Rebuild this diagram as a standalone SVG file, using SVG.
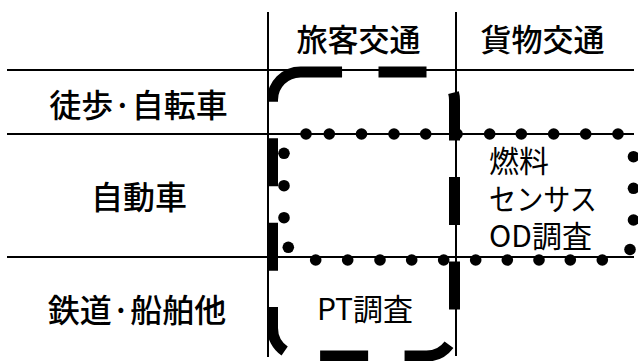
<svg xmlns="http://www.w3.org/2000/svg" width="638" height="361" viewBox="0 0 638 361">
  <style>
    .grid { stroke: #000; stroke-width: 2; fill: none; }
    .lbl { font-family: "Noto Sans CJK JP", "Noto Sans", sans-serif; fill: #000; }
    .row { font-size: 32px; font-weight: 500; text-anchor: middle; }
    .hdr { font-size: 31px; font-weight: 500; text-anchor: middle; }
    .in { font-size: 30px; }
    .dash { fill: none; stroke: #000; stroke-width: 11; stroke-dasharray: 48 36.44; stroke-dashoffset: 6.44; stroke-linecap: butt; }
    .dots circle { fill: #000; }
  </style>
  <defs>
    <circle id="d" r="5.8"/>
  </defs>
  <rect width="638" height="361" fill="#fff"/>
  <g id="grid">
    <line class="grid" x1="268" y1="12" x2="268" y2="357"/>
    <line class="grid" x1="456" y1="12" x2="456" y2="356"/>
    <line class="grid" x1="7" y1="70" x2="634" y2="70"/>
    <line class="grid" x1="7" y1="134" x2="634" y2="134"/>
    <line class="grid" x1="7" y1="257" x2="634" y2="257"/>
  </g>
  <g id="headers">
    <text class="lbl hdr" x="358.5" y="50.5">旅客交通</text>
    <text class="lbl hdr" x="542.5" y="50.5">貨物交通</text>
  </g>
  <g id="rows">
    <text class="lbl row" x="138.5" y="117">徒歩·自転車</text>
    <text class="lbl row" x="139" y="209">自動車</text>
    <text class="lbl row" x="137" y="321.5">鉄道·船舶他</text>
  </g>
  <g id="pt-survey">
    <path class="dash" d="M300.5,72 H426.5 A28,28 0 0 1 454.5,100 V328 A28,28 0 0 1 426.5,356 H300.5 A28,28 0 0 1 272.5,328 V100 A28,28 0 0 1 300.5,72 Z"/>
    <text class="lbl in" x="365" y="319.5" text-anchor="middle">PT調査</text>
  </g>
  <g id="road-census">
    <g class="dots">
      <use href="#d" x="306" y="134"/>
      <use href="#d" x="329.3" y="134"/>
      <use href="#d" x="361.5" y="134"/>
      <use href="#d" x="394" y="134"/>
      <use href="#d" x="425.7" y="134"/>
      <use href="#d" x="457" y="134"/>
      <use href="#d" x="489.7" y="134"/>
      <use href="#d" x="521.3" y="134"/>
      <use href="#d" x="553.7" y="134"/>
      <use href="#d" x="585.7" y="134"/>
      <use href="#d" x="618" y="134"/>
      <use href="#d" x="633.5" y="156.7"/>
      <use href="#d" x="633.5" y="188.3"/>
      <use href="#d" x="633.5" y="220"/>
      <use href="#d" x="630" y="249.5"/>
      <use href="#d" x="602.3" y="260"/>
      <use href="#d" x="570.3" y="260"/>
      <use href="#d" x="539" y="260"/>
      <use href="#d" x="507.3" y="260"/>
      <use href="#d" x="475.7" y="260"/>
      <use href="#d" x="443.7" y="260"/>
      <use href="#d" x="411.7" y="260"/>
      <use href="#d" x="380" y="260"/>
      <use href="#d" x="347.7" y="260"/>
      <use href="#d" x="315.7" y="260"/>
      <use href="#d" x="288.3" y="247.3"/>
      <use href="#d" x="284" y="217.7"/>
      <use href="#d" x="284" y="185.7"/>
      <use href="#d" x="284" y="153.3"/>
    </g>
    <text class="lbl in" x="489" y="172">燃料<tspan x="489" y="209.5" textLength="108" lengthAdjust="spacingAndGlyphs">センサス</tspan><tspan x="489" y="247">OD調査</tspan></text>
  </g>
</svg>
